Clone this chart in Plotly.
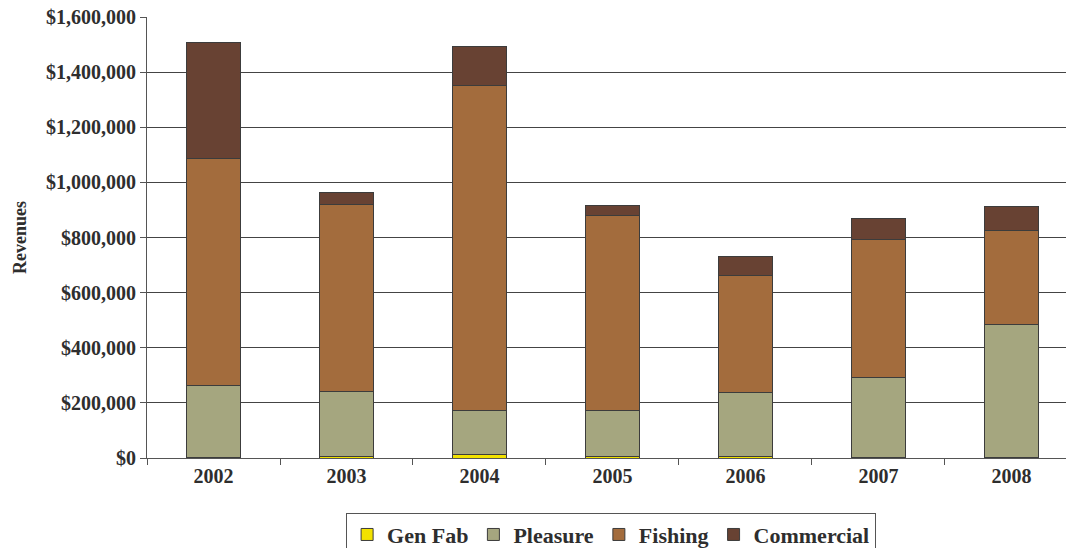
import plotly.graph_objects as go

years = ["2002", "2003", "2004", "2005", "2006", "2007", "2008"]

gen_fab = [1000, 5000, 12000, 6000, 5000, 3000, 1000]
pleasure = [263000, 238000, 159000, 165000, 231000, 290000, 485000]
fishing = [824000, 678000, 1179000, 708000, 425000, 501000, 339000]
commercial = [420000, 43000, 144000, 37000, 70000, 74000, 87000]

series = [
    ("Gen Fab", gen_fab, "#f2e200"),
    ("Pleasure", pleasure, "#a5a67f"),
    ("Fishing", fishing, "#a36c3d"),
    ("Commercial", commercial, "#684233"),
]

serif = "Liberation Serif, Times New Roman, serif"
ink = "#2e2e2e"

fig = go.Figure()
for name, vals, color in series:
    fig.add_trace(go.Bar(
        x=years, y=vals, name=name,
        marker=dict(color=color, line=dict(color="#3c3c3c", width=1)),
        width=0.4,
    ))

fig.update_layout(
    barmode="stack",
    width=1066, height=548,
    margin=dict(l=147, r=0, t=17, b=90, autoexpand=False),
    paper_bgcolor="white", plot_bgcolor="white",
    font=dict(family=serif, color=ink),
    showlegend=True,
    legend=dict(
        orientation="h", traceorder="normal",
        x=0.505, xanchor="center", y=-0.124, yanchor="top",
        font=dict(family=serif, size=22, weight="bold", color=ink),
        bordercolor="#555555", borderwidth=1, bgcolor="white",
        itemwidth=30, tracegroupgap=0,
    ),
    xaxis=dict(
        type="category", range=[-0.5, 6.41],
        showline=True, linecolor="#555555", linewidth=1,
        ticks="outside", tickson="boundaries", ticklen=6, tickcolor="#555555",
        tickfont=dict(family=serif, size=20, weight="bold", color=ink),
        showgrid=False,
    ),
    yaxis=dict(
        range=[0, 1600000], dtick=200000,
        tickprefix="$", tickformat=",d",
        showline=True, linecolor="#555555", linewidth=1,
        ticks="outside", ticklen=6, tickcolor="#555555",
        tickfont=dict(family=serif, size=20, weight="bold", color=ink),
        showgrid=True, gridcolor="#444444", gridwidth=1.2,
        zeroline=False,
        title=dict(text="Revenues", standoff=14,
                   font=dict(family=serif, size=18, weight="bold", color=ink)),
    ),
)

fig.write_html("out.html")
